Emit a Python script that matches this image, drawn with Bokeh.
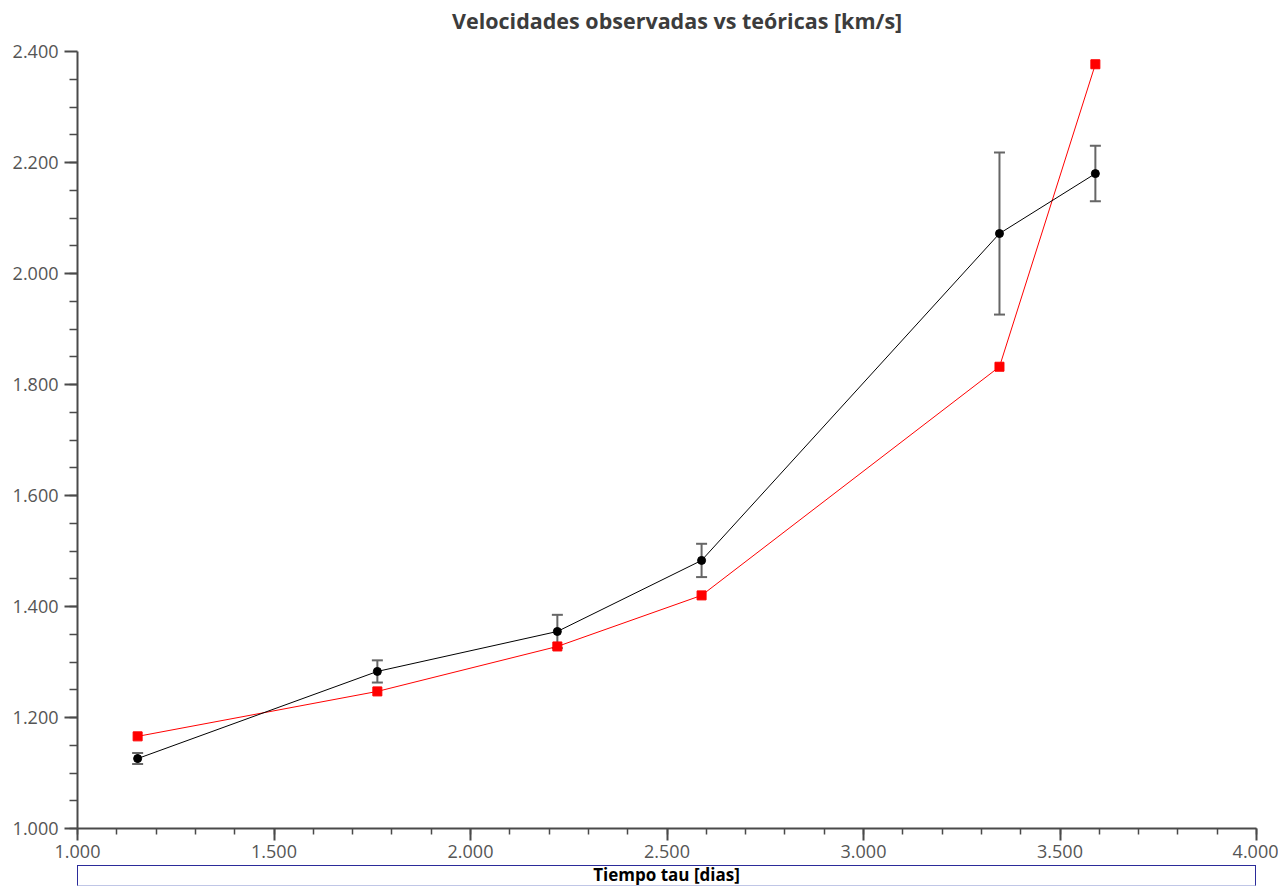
from bokeh.plotting import figure
from bokeh.models import Range1d, FixedTicker, NumeralTickFormatter, Whisker, ColumnDataSource, Div, TeeHead
from bokeh.layouts import column
from bokeh.embed import file_html
from bokeh.resources import INLINE

# Data
tau = [1.153, 1.763, 2.221, 2.588, 3.346, 3.590]
v_obs = [1.126, 1.283, 1.355, 1.483, 2.072, 2.180]
v_err = [0.010, 0.020, 0.030, 0.030, 0.146, 0.050]
v_teo = [1.166, 1.247, 1.328, 1.420, 1.832, 2.377]

x_ticks = [1.0, 1.5, 2.0, 2.5, 3.0, 3.5, 4.0]
y_ticks = [1.0, 1.2, 1.4, 1.6, 1.8, 2.0, 2.2, 2.4]

title_text = "Velocidades observadas vs teóricas [km/s]"
x_label = "Tiempo tau [dias]"

src = ColumnDataSource(dict(
    x=tau, y=v_obs,
    lo=[v - e for v, e in zip(v_obs, v_err)],
    hi=[v + e for v, e in zip(v_obs, v_err)],
    teo=v_teo,
))

title_div = Div(
    text=('<div style="box-sizing:border-box;width:1278px;height:39px;padding-top:6px;padding-left:452px;'
          'white-space:nowrap;font-family:\'Open Sans\';font-weight:bold;font-size:21.5px;'
          'line-height:29px;color:#3c3c3c;">' + title_text + '</div>'),
    width=1278, height=39, margin=(0, 0, 0, 0))

p = figure(width=1278, height=826, output_backend="svg", toolbar_location=None,
           x_range=Range1d(1.0, 4.0), y_range=Range1d(1.0, 2.4),
           min_border_left=77, min_border_right=22, min_border_top=12, min_border_bottom=37,
           background_fill_color="white", border_fill_color="white")
p.outline_line_color = None
p.grid.visible = False

minor_x = [1.0 + 0.1 * i for i in range(31)]
minor_y = [1.0 + 0.05 * i for i in range(29)]
p.xaxis.ticker = FixedTicker(ticks=x_ticks, minor_ticks=minor_x)
p.yaxis.ticker = FixedTicker(ticks=y_ticks, minor_ticks=minor_y)
for ax in (p.xaxis, p.yaxis):
    ax.formatter = NumeralTickFormatter(format="0.000")
    ax.axis_line_color = "#4a4a4a"
    ax.axis_line_width = 2
    ax.major_tick_line_color = "#4a4a4a"
    ax.major_tick_line_width = 2
    ax.minor_tick_line_color = "#4a4a4a"
    ax.minor_tick_line_width = 1.5
    ax.major_tick_in = 0
    ax.minor_tick_in = 0
    ax.major_label_text_font = "Open Sans"
    ax.major_label_text_font_size = "18px"
    ax.major_label_text_color = "#555555"
p.xaxis.major_tick_out = 12
p.xaxis.minor_tick_out = 6
p.xaxis.major_label_standoff = 4
p.yaxis.major_tick_out = 13
p.yaxis.minor_tick_out = 8
p.yaxis.major_label_standoff = 6

# theoretical (red)
p.line("x", "teo", source=src, line_color="#ff0000", line_width=1)
p.scatter("x", "teo", source=src, marker="square", size=9, fill_color="#ff0000", line_color="#ff0000")

# observed (black) with error bars
p.line("x", "y", source=src, line_color="#000000", line_width=1)
wh = Whisker(base="x", lower="lo", upper="hi", source=src,
             line_color="#666666", line_width=2,
             upper_head=TeeHead(size=11, line_color="#666666", line_width=2),
             lower_head=TeeHead(size=11, line_color="#666666", line_width=2))
p.add_layout(wh)
p.scatter("x", "y", source=src, marker="circle", size=8, fill_color="#000000", line_color="#000000")

label_div = Div(
    text=('<div style="box-sizing:border-box;width:1179px;height:21px;'
          'border-top:1px solid #2b2b9a;border-left:1px solid #2b2b9a;border-right:1px solid #2b2b9a;'
          'border-bottom:1px solid #c0c6e6;text-align:center;'
          'font-family:\'Open Sans\';font-weight:bold;font-size:17px;line-height:18px;color:#000;">'
          + x_label + '</div>'),
    width=1179, height=21, margin=(0, 0, 0, 77))

layout = column(title_div, p, label_div, spacing=0)

open("out.html", "w").write(file_html(layout, INLINE))
